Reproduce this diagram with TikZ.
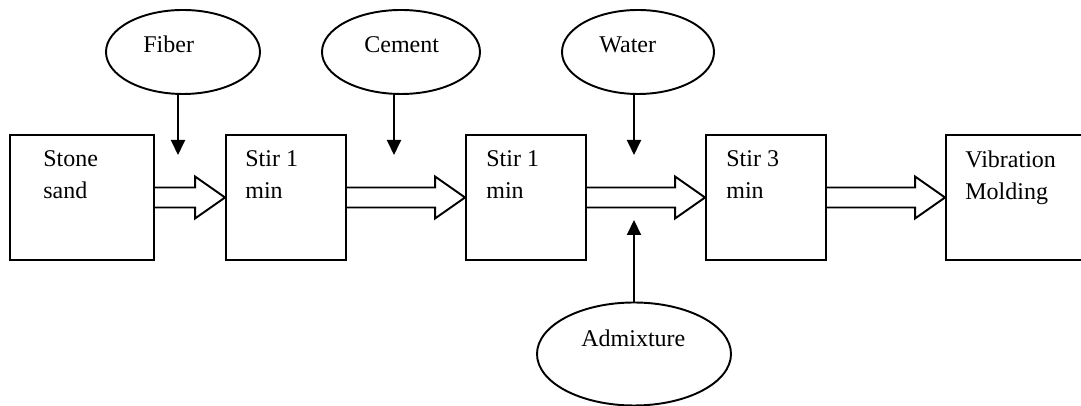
\documentclass[tikz,border=0pt]{standalone}
\usepackage{fontspec}
\setmainfont{Liberation Serif}
\usepackage{tikz}
\usetikzlibrary{shapes.geometric,arrows.meta,calc}

% hollow block arrow between two boxes
\newcommand{\flowarrow}[2]{%
  \draw[flow] ($(#1.east)+(0,0.2)$) -- ($(#2.west)+(-0.6,0.2)$) -- ++(0,0.22)
    -- (#2.west) -- ($(#2.west)+(-0.6,-0.42)$) -- ++(0,0.22)
    -- ($(#1.east)+(0,-0.2)$);}

\begin{document}
\begin{tikzpicture}[
    box/.style={draw, line width=1.1pt, minimum width=2.4cm, minimum height=2.5cm, inner sep=0pt},
    oval/.style={draw, ellipse, line width=1.1pt, minimum width=3.08cm, minimum height=1.68cm, inner sep=0pt},
    lbl/.style={inner sep=0pt, align=left, font=\fontsize{13.66}{18.2}\selectfont},
    feed/.style={line width=1.1pt, -{Triangle[width=0.28cm,length=0.3cm]}},
    flow/.style={line width=1.1pt, line join=miter}
]
    \useasboundingbox (0,0) rectangle (21.62,8.12);

    % process boxes
    \node[box, minimum width=2.88cm] (stone) at (1.64,4.17) {};
    \node[box] (stir1) at (5.72,4.17) {};
    \node[box] (stir2) at (10.52,4.17) {};
    \node[box] (stir3) at (15.32,4.17) {};
    \node[box, minimum width=2.8cm] (mold) at (20.32,4.17) {};

    \node[lbl, anchor=north west] (stone-t) at ($(stone.north west)+(0.68,-0.32)$) {Stone\\sand};
    \node[lbl, anchor=north west] (stir1-t) at ($(stir1.north west)+(0.4,-0.32)$) {Stir 1\\min};
    \node[lbl, anchor=north west] (stir2-t) at ($(stir2.north west)+(0.42,-0.32)$) {Stir 1\\min};
    \node[lbl, anchor=north west] (stir3-t) at ($(stir3.north west)+(0.42,-0.32)$) {Stir 3\\min};
    \node[lbl, anchor=north west] (mold-t) at ($(mold.north west)+(0.4,-0.32)$) {Vibration\\Molding};

    % materials
    \node[oval] (fiber) at (3.66,7.08) {};
    \node[oval, minimum width=3.16cm] (cement) at (8.02,7.08) {};
    \node[oval, minimum width=3.04cm] (water) at (12.76,7.08) {};
    \node[oval, minimum width=3.88cm, minimum height=2.06cm] (admix) at (12.68,1.04) {};

    \node[lbl, anchor=base west] (fiber-t) at (2.86,7.06) {Fiber};
    \node[lbl, anchor=base west] (cement-t) at (7.28,7.06) {Cement};
    \node[lbl, anchor=base west] (water-t) at (11.98,7.06) {Water};
    \node[lbl, anchor=base west] (admix-t) at (11.62,1.18) {Admixture};

    % arrow ends
    \coordinate (fiber-end) at (3.56,5.02);
    \coordinate (cement-end) at (7.88,5.02);
    \coordinate (water-end) at (12.68,5.02);
    \coordinate (admix-end) at (12.68,3.72);

    \draw[feed] (fiber.south -| fiber-end) -- (fiber-end);
    \draw[feed] (cement.south -| cement-end) -- (cement-end);
    \draw[feed] (water.south -| water-end) -- (water-end);
    \draw[feed] (admix.north -| admix-end) -- (admix-end);

    \flowarrow{stone}{stir1}
    \flowarrow{stir1}{stir2}
    \flowarrow{stir2}{stir3}
    \flowarrow{stir3}{mold}
\end{tikzpicture}
\end{document}
